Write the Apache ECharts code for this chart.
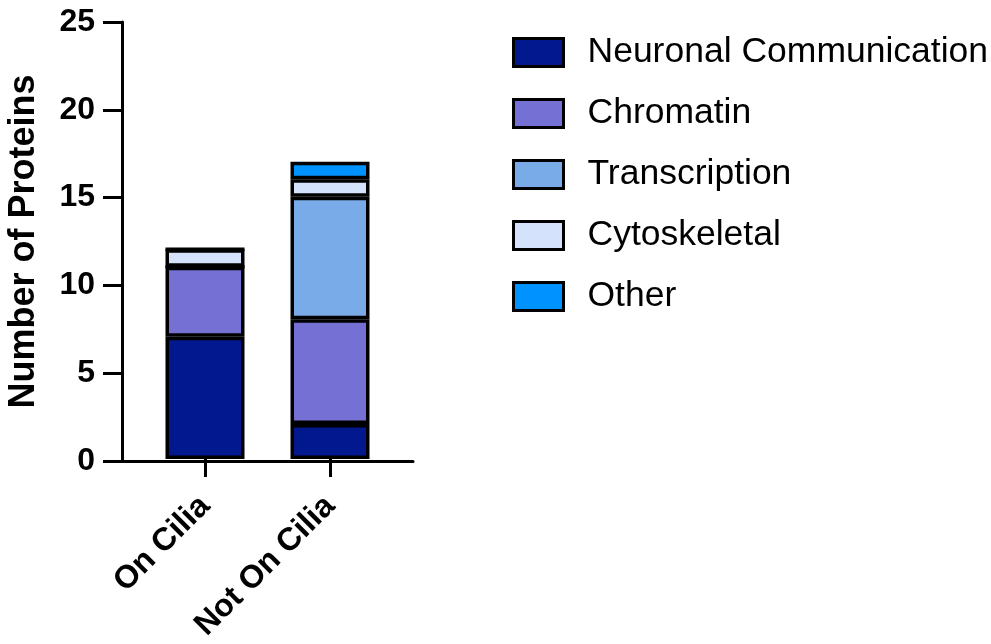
<!DOCTYPE html>
<html>
<head>
<meta charset="utf-8">
<script src="https://cdn.jsdelivr.net/npm/echarts@6/dist/echarts.min.js"></script>
<style>
  html, body { margin: 0; padding: 0; background: #fff; }
  #chart { width: 991px; height: 644px; }
</style>
</head>
<body>
<div id="chart"></div>
<script>
// Protein counts per localisation group, stacked by functional class
const groups = ['On Cilia', 'Not On Cilia'];
const classNames = ['Neuronal Communication', 'Chromatin', 'Transcription', 'Cytoskeletal', 'Other'];
const neuronal = [7, 2];
const chromatin = [4, 6];
const transcription = [0, 7];
const cytoskeletal = [1, 1];
const other = [0, 1];
const classColors = ['#02188F', '#7570D3', '#78ABE8', '#D4E2FC', '#0093FF'];
const yTicks = { min: 0, max: 25, interval: 5 };

const FONT = '"Liberation Sans", Arial, Helvetica, sans-serif';
const classValues = [neuronal, chromatin, transcription, cytoskeletal, other];

const chart = echarts.init(document.getElementById('chart'), null, { renderer: 'canvas' });

const series = classNames.map((name, i) => ({
  name: name,
  type: 'bar',
  stack: 'total',
  xAxisIndex: 1,
  yAxisIndex: 1,
  barWidth: 79,
  data: classValues[i],
  itemStyle: { color: classColors[i], borderColor: '#000', borderWidth: 3.5 },
  emphasis: { disabled: true }
}));

chart.setOption({
  animation: false,
  backgroundColor: '#fff',
  grid: [
    // frame grid: carries the value axis and the full-length baseline
    { left: 122, top: 22, width: 291, height: 439 },
    // bar grid: the two categories
    { left: 142.5, top: 22, width: 250, height: 439 }
  ],
  legend: {
    data: classNames,
    icon: 'rect',
    orient: 'vertical',
    left: 512,
    top: 34.5,
    padding: 0,
    itemWidth: 50,
    itemHeight: 28,
    itemGap: 25,
    selectedMode: false,
    itemStyle: { borderWidth: 3 },
    textStyle: { fontFamily: FONT, fontSize: 35.5, color: '#000', lineHeight: 36, padding: [0, 0, 0, 19] }
  },
  xAxis: [
    {
      type: 'value', gridIndex: 0, min: 0, max: 1,
      axisLine: { show: true, onZero: false, lineStyle: { color: '#000', width: 3 } },
      axisTick: { show: false }, axisLabel: { show: false }, splitLine: { show: false }
    },
    {
      type: 'category', gridIndex: 1, data: groups,
      axisLine: { show: false },
      axisTick: { show: true, alignWithLabel: true, length: 18, lineStyle: { color: '#000', width: 3 } },
      axisLabel: {
        rotate: 45, margin: 42, interval: 0,
        fontFamily: FONT, fontSize: 32, fontWeight: 'bold', color: '#000'
      },
      splitLine: { show: false }
    }
  ],
  yAxis: [
    {
      type: 'value', gridIndex: 0,
      min: yTicks.min, max: yTicks.max, interval: yTicks.interval,
      name: 'Number of Proteins',
      nameLocation: 'middle',
      nameGap: 80,
      nameTextStyle: { fontFamily: FONT, fontSize: 36, fontWeight: 'bold', color: '#000' },
      axisLine: { show: true, lineStyle: { color: '#000', width: 3 } },
      axisTick: { show: true, length: 19, lineStyle: { color: '#000', width: 3 } },
      axisLabel: { margin: 27, fontFamily: FONT, fontSize: 32, fontWeight: 'bold', color: '#000' },
      splitLine: { show: false }
    },
    {
      type: 'value', gridIndex: 1,
      min: yTicks.min, max: yTicks.max, interval: yTicks.interval,
      show: false, splitLine: { show: false }
    }
  ],
  series: series
});
</script>
</body>
</html>
